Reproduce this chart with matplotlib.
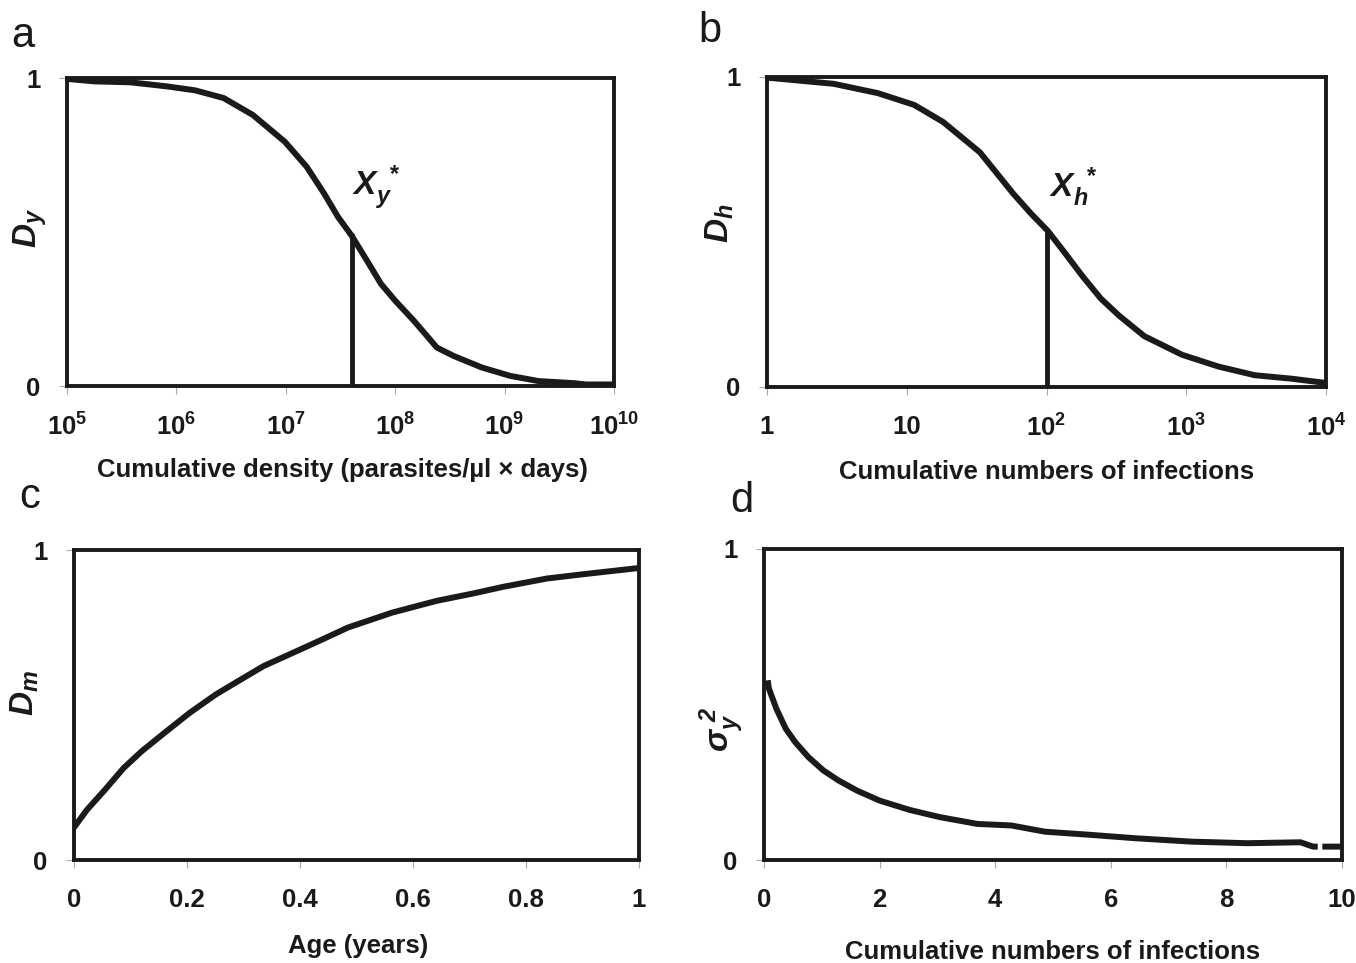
import matplotlib
matplotlib.use("Agg")
import matplotlib.pyplot as plt
import numpy as np
from matplotlib.ticker import FixedLocator, FixedFormatter, NullLocator

# ---------------- data ----------------
# (a) cumulative density (parasites/ul x days) vs D_y
a_x = [1e5, 1.8e5, 3.8e5, 8.1e5, 1.48e6, 2.7e6, 5.0e6, 9.8e6, 1.55e7, 2.24e7,
       3.0e7, 4.0e7, 5.5e7, 7.4e7, 1.0e8, 1.48e8, 2.0e8, 2.4e8, 3.4e8, 6.2e8,
       1.12e9, 2.04e9, 4.4e9, 5.5e9, 1e10]
a_y = [0.997, 0.989, 0.986, 0.973, 0.960, 0.935, 0.880, 0.793, 0.712, 0.625,
       0.549, 0.488, 0.408, 0.332, 0.277, 0.212, 0.158, 0.125, 0.098, 0.060,
       0.033, 0.016, 0.009, 0.005, 0.005]
a_xstar = 4.0e7
a_ystar = 0.488

# (b) cumulative numbers of infections vs D_h
b_x = [1, 1.64, 3.0, 6.2, 11.3, 18.2, 33.4, 57.5, 77.6, 102, 132, 182, 245,
       331, 501, 933, 1698, 3090, 5623, 10000]
b_y = [0.998, 0.989, 0.978, 0.948, 0.910, 0.855, 0.757, 0.625, 0.559, 0.504,
       0.439, 0.356, 0.285, 0.230, 0.164, 0.104, 0.066, 0.038, 0.027, 0.013]
b_xstar = 100
b_ystar = 0.504
b_ybottom = 0.013

# (c) age (years) vs D_m
c_x = [0, 0.023, 0.055, 0.088, 0.120, 0.160, 0.205, 0.251, 0.296, 0.336,
       0.381, 0.433, 0.485, 0.563, 0.642, 0.707, 0.759, 0.837, 0.902, 1.0]
c_y = [0.105, 0.162, 0.227, 0.297, 0.351, 0.410, 0.475, 0.534, 0.583, 0.626,
       0.663, 0.706, 0.750, 0.798, 0.836, 0.860, 0.881, 0.908, 0.922, 0.942]

# (d) cumulative numbers of infections vs sigma_y^2 (small gap near 9.6)
d_x = [0.065, 0.085, 0.215, 0.377, 0.54, 0.767, 1.027, 1.287, 1.61, 2.0, 2.52,
       3.04, 3.69, 4.28, 4.86, 5.64, 6.42, 7.40, 8.37, 9.28, 9.50, 9.58,
       9.62, 9.66, 10.0]
d_y = [0.578, 0.551, 0.486, 0.422, 0.379, 0.331, 0.288, 0.256, 0.223, 0.191,
       0.161, 0.138, 0.116, 0.111, 0.091, 0.081, 0.070, 0.059, 0.054, 0.057,
       0.043, 0.043, np.nan, 0.043, 0.043]

a_ticks = [1e5, 1e6, 1e7, 1e8, 1e9, 1e10]
a_ticklabels = ['$10^{5}$', '$10^{6}$', '$10^{7}$', '$10^{8}$', '$10^{9}$', '$10^{10}$']
b_ticks = [1, 10, 100, 1000, 10000]
b_ticklabels = ['1', '10', '$10^{2}$', '$10^{3}$', '$10^{4}$']
c_ticks = [0, 0.2, 0.4, 0.6, 0.8, 1]
c_ticklabels = ['0', '0.2', '0.4', '0.6', '0.8', '1']
d_ticks = [0, 2, 4, 6, 8, 10]
d_ticklabels = ['0', '2', '4', '6', '8', '10']
y_ticks = [0, 1]
y_ticklabels = ['0', '1']

# ---------------- style ----------------
plt.rcParams['font.family'] = ['Liberation Sans', 'DejaVu Sans']
plt.rcParams['mathtext.default'] = 'regular'

W, H = 1356, 963
INK = '#1a1a1a'
fig = plt.figure(figsize=(W / 100, H / 100), dpi=100)
fig.patch.set_facecolor('white')

def px_rect(l, t, r, b):
    return [l / W, 1 - b / H, (r - l) / W, (b - t) / H]

TICK_FS = 18.5
LAB_FS = 18.5
SPINE_LW = 2.8
CURVE_LW = 4.3

def style(ax, xt, xtl):
    for s in ax.spines.values():
        s.set_linewidth(SPINE_LW)
        s.set_color(INK)
    ax.xaxis.set_major_locator(FixedLocator(xt))
    ax.xaxis.set_major_formatter(FixedFormatter(xtl))
    ax.xaxis.set_minor_locator(NullLocator())
    ax.yaxis.set_major_locator(FixedLocator(y_ticks))
    ax.yaxis.set_major_formatter(FixedFormatter(y_ticklabels))
    ax.yaxis.set_minor_locator(NullLocator())
    ax.set_ylim(0, 1)
    ax.tick_params(axis='both', direction='out', length=6, width=0.8,
                   color='#aaaaaa', labelsize=TICK_FS)
    ax.tick_params(axis='x', pad=14)
    ax.tick_params(axis='y', pad=13)
    for lab in ax.get_xticklabels() + ax.get_yticklabels():
        lab.set_fontweight('bold')
        lab.set_color(INK)

def fig_text(x, y, s, **kw):
    fig.text(x / W, 1 - y / H, s, **kw)

# (a)
axa = fig.add_axes(px_rect(67, 78, 614, 386))
axa.set_xscale('log')
axa.plot(a_x, a_y, color=INK, lw=CURVE_LW, solid_joinstyle='round')
axa.plot([a_xstar, a_xstar], [0, a_ystar], color=INK, lw=3.5)
axa.set_xlim(1e5, 1e10)
style(axa, a_ticks, a_ticklabels)
axa.text(4.0e7, 0.645, r'$X_{y}^{\ *}$', fontsize=24, fontweight='bold',
         fontstyle='italic', ha='left', va='center', color=INK)

# (b)
axb = fig.add_axes(px_rect(767, 77, 1326, 387))
axb.set_xscale('log')
axb.plot(b_x, b_y, color=INK, lw=CURVE_LW, solid_joinstyle='round')
axb.plot([b_xstar, b_xstar], [b_ybottom, b_ystar], color=INK, lw=3.5)
axb.set_xlim(1, 1e4)
style(axb, b_ticks, b_ticklabels)
axb.text(104, 0.645, r'$X_{h}^{\ *}$', fontsize=24, fontweight='bold',
         fontstyle='italic', ha='left', va='center', color=INK)

# (c)
axc = fig.add_axes(px_rect(74, 550, 639, 860))
axc.plot(c_x, c_y, color=INK, lw=CURVE_LW, solid_joinstyle='round')
axc.set_xlim(0, 1)
style(axc, c_ticks, c_ticklabels)

# (d)
axd = fig.add_axes(px_rect(764, 549, 1342, 860))
axd.plot(d_x, d_y, color=INK, lw=CURVE_LW, solid_joinstyle='round',
         solid_capstyle='butt')
axd.set_xlim(0, 10)
style(axd, d_ticks, d_ticklabels)

# panel letters
for (x, y, s) in [(23, 47, 'a'), (710, 42, 'b'), (30, 508, 'c'), (742, 512, 'd')]:
    fig_text(x, y, s, fontsize=30, ha='center', va='baseline', color=INK)

# x labels
xl = dict(fontsize=LAB_FS, fontweight='bold', ha='center', va='center', color=INK)
fig_text(342, 470, 'Cumulative density (parasites/µl × days)', **xl)
fig_text(1047, 472, 'Cumulative numbers of infections', **xl)
fig_text(358, 946, 'Age (years)', **xl)
fig_text(1053, 952, 'Cumulative numbers of infections', **xl)

# y labels
yl = dict(fontsize=24, fontweight='bold', fontstyle='italic', rotation=90,
          ha='center', va='center', color=INK)
fig_text(30, 228, r'$D_{y}$', **yl)
fig_text(720, 223, r'$D_{h}$', **yl)
fig_text(25, 693, r'$D_{m}$', **yl)
fig_text(722, 730, r'$σ_{y}^{\ 2}$', **yl)

fig.savefig('out.png', dpi=100, facecolor='white')
